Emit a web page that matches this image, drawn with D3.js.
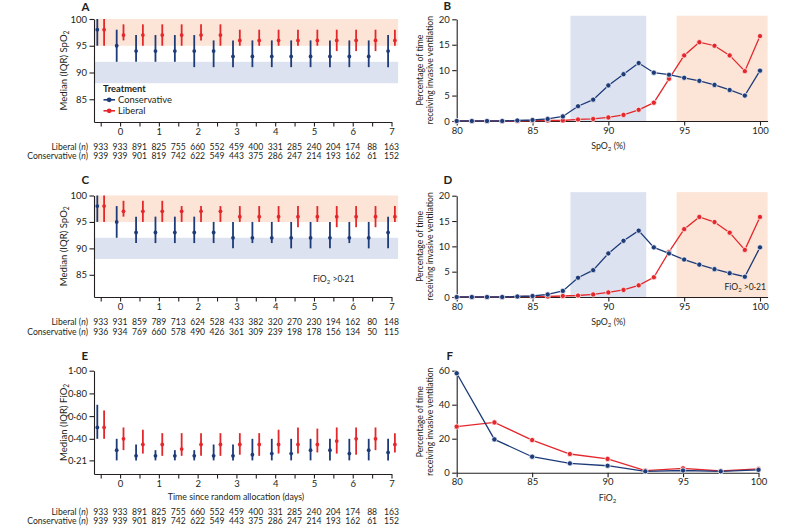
<!DOCTYPE html>
<html><head><meta charset="utf-8">
<script src="https://cdn.jsdelivr.net/npm/d3@7"></script>
<style>
body{margin:0;background:#fff}
text{font-family:Lato,"Noto Sans",sans-serif;fill:#231f20}
</style>
</head><body>
<svg id="c" width="800" height="530"></svg>
<script>
// ---------- DATA ----------
const days = [-0.5,0,0.5,1,1.5,2,2.5,3,3.5,4,4.5,5,5.5,6,6.5,7];

// Panel A: SpO2 median (IQR)
const aConsMed = [98,95,94,94,94,94,94,93,93,93,93,93,93,93,93,94];
const aConsLo  = [95,92,92,92,92,91,91,91,91,91,91,91,91,91,91,91];
const aConsHi  = [100,98,97,97,97,97,96,96,96,96,96,96,96,96,96,97];
const aLibMed  = [98,97,97,97,97,97,97,96,96,96,96,96,96,96,96,96];
const aLibLo   = [95,96,95,95,95,96,95,95,95,95,95,95,94,94,94,95];
const aLibHi   = [100,99,99,99,99,99,99,98,98,98,98,98,98,98,98,98];
const aLibN    = [933,933,891,825,755,660,552,459,400,331,285,240,204,174,88,163];
const aConsN   = [939,939,901,819,742,622,549,443,375,286,247,214,193,162,61,152];

// Panel C: SpO2 median (IQR), FiO2 > 0.21
const cConsMed = [98,95,93,93,93,93,93,92,92,92,92,92,92,92,92,93];
const cConsLo  = [95,92,91,91,91,91,91,90,91,91,90,90,90,91,90,90];
const cConsHi  = [100,98,96,96,96,96,95,95,95,95,95,95,95,95,95,96];
const cLibMed  = [98,97,97,97,97,97,97,96,96,96,96,96,96,96,96,96];
const cLibLo   = [95,96,95,95,95,95,95,95,95,95,94,95,94,94,94,95];
const cLibHi   = [100,99,99,99,98,98,98,98,98,98,98,98,98,98,98,98];
const cLibN    = [933,931,859,789,713,624,528,433,382,320,270,230,194,162,80,148];
const cConsN   = [936,934,769,660,578,490,426,361,309,239,198,178,156,134,50,115];

// Panel E: FiO2 median (IQR)
const eConsMed = [0.50,0.30,0.25,0.25,0.25,0.25,0.25,0.25,0.26,0.27,0.27,0.30,0.30,0.27,0.30,0.28];
const eConsLo  = [0.40,0.21,0.21,0.21,0.21,0.21,0.21,0.21,0.21,0.21,0.21,0.21,0.21,0.21,0.21,0.21];
const eConsHi  = [0.70,0.40,0.35,0.30,0.30,0.30,0.35,0.35,0.40,0.40,0.40,0.40,0.40,0.40,0.40,0.40];
const eLibMed  = [0.50,0.40,0.35,0.35,0.31,0.35,0.35,0.35,0.35,0.35,0.35,0.35,0.38,0.40,0.40,0.35];
const eLibLo   = [0.40,0.30,0.27,0.25,0.25,0.25,0.25,0.26,0.25,0.27,0.27,0.28,0.27,0.26,0.30,0.28];
const eLibHi   = [0.65,0.50,0.48,0.45,0.45,0.45,0.45,0.45,0.45,0.48,0.50,0.49,0.50,0.50,0.50,0.45];
const eLibN    = aLibN;
const eConsN   = aConsN;

// Panels B, D: % time receiving invasive ventilation by SpO2
const spo2 = [80,81,82,83,84,85,86,87,88,89,90,91,92,93,94,95,96,97,98,99,100];
const bCons = [0,0,0,0,0.1,0.2,0.4,0.9,2.9,4.2,7.0,9.2,11.4,9.5,9.1,8.5,7.9,7.1,6.1,5.0,9.9];
const bLib  = [0,0,0,0,0,0.1,0.1,0.1,0.3,0.4,0.7,1.2,2.2,3.6,8.3,12.9,15.5,14.8,12.9,9.8,16.7];
const dCons = [0,0,0,0,0.1,0.2,0.5,1.2,3.8,5.3,8.6,11.1,13.1,9.8,8.6,7.4,6.4,5.5,4.7,4.0,9.8];
const dLib  = [0,0,0,0,0.1,0.1,0.1,0.2,0.3,0.5,0.9,1.4,2.3,3.9,8.9,13.4,15.8,14.8,12.7,9.3,15.8];

// Panel F: by FiO2 bin
const fio2 = [80,82.5,85,87.5,90,92.5,95,97.5,100];
const fCons = [58.5,19.6,9.4,5.5,4.1,0.8,1.3,0.8,1.7];
const fLib  = [27.1,29.6,19.2,11.0,8.1,1.2,2.6,1.0,2.2];

// target bands
const consBand = [88,92];
const libBand  = [95,100];
const consBandX = [87.5,92.5];
const libBandX  = [94.5,100.5];

// ---------- STYLE ----------
const NAVY='#1d3b78', RED='#e4272b', PEACH='#fce4d6', LAV='#dde2f0', INK='#231f20';
const svg = d3.select('#c');

function styleAxis(g){
  g.select('.domain').attr('stroke',INK).attr('stroke-width',1.1);
  g.selectAll('.tick line').attr('stroke',INK).attr('stroke-width',1.1);
  g.selectAll('.tick text').style('font-family','Lato,"Noto Sans",sans-serif').attr('fill',INK);
}

// parts: [text, kind] with kind 'sub' for subscript, 'after' for text following a subscript
function labelWithSub(sel, parts, fs){
  const shift = fs*0.22;
  parts.forEach(p=>{
    const t = sel.append('tspan').text(p[0]);
    if(p[1]==='sub') t.attr('font-size',fs*0.7).attr('dy',shift);
    else if(p[1]==='after') t.attr('dy',-shift);
  });
}

function leftPanel(o){
  const x = d3.scaleLinear().domain([-0.673,7]).range([94,391.5]);
  const y = d3.scaleLinear().domain(o.yDomain).range([o.bottom,o.top]);
  const g = svg.append('g');
  if(o.bands){
    const x0 = x(-0.673), x1 = x(7.17);
    g.append('rect').attr('x',x0).attr('width',x1-x0)
      .attr('y',y(libBand[1])).attr('height',y(libBand[0])-y(libBand[1])).attr('fill',PEACH);
    g.append('rect').attr('x',x0).attr('width',x1-x0)
      .attr('y',y(consBand[1])).attr('height',y(consBand[0])-y(consBand[1])).attr('fill',LAV);
  }
  const ya = g.append('g').attr('transform','translate(94,0)')
    .call(d3.axisLeft(y).tickValues(o.yTicks).tickFormat(o.fmt).tickSize(4.5).tickSizeOuter(0));
  ya.selectAll('.tick text').attr('font-size',9.5).attr('x',-7);
  styleAxis(ya);
  const xa = g.append('g').attr('transform',`translate(0,${o.bottom})`)
    .call(d3.axisBottom(x).tickValues(days).tickFormat(d=>Number.isInteger(d)?d:'').tickSize(4.5).tickSizeOuter(0));
  xa.selectAll('.tick text').attr('font-size',9.5).attr('y',12.5).attr('dy',0);
  styleAxis(xa);

  const off = 3.4;
  const series = [
    {med:o.consMed, lo:o.consLo, hi:o.consHi, c:NAVY, dx:-off},
    {med:o.libMed, lo:o.libLo, hi:o.libHi, c:RED, dx:off}
  ];
  series.forEach(s=>{
    g.selectAll(null).data(days).enter().append('line')
      .attr('x1',(d)=>x(d)+s.dx).attr('x2',(d)=>x(d)+s.dx)
      .attr('y1',(d,i)=>y(s.lo[i])).attr('y2',(d,i)=>y(s.hi[i]))
      .attr('stroke',s.c).attr('stroke-width',1.8);
    g.selectAll(null).data(days).enter().append('circle')
      .attr('cx',(d)=>x(d)+s.dx).attr('cy',(d,i)=>y(s.med[i])).attr('r',1.9).attr('fill',s.c);
  });

  // counts
  const rows = [['Liberal ',o.libN,o.nY],['Conservative ',o.consN,o.nY+9.5]];
  rows.forEach(r=>{
    const t = g.append('text').attr('x',88).attr('y',r[2]).attr('text-anchor','end').attr('font-size',8.6);
    t.append('tspan').text(r[0]+'(');
    t.append('tspan').attr('font-style','italic').text('n');
    t.append('tspan').text(')');
    g.selectAll(null).data(days).enter().append('text')
      .attr('x',d=>x(d)).attr('y',r[2]).attr('text-anchor','middle').attr('font-size',8.6)
      .text((d,i)=>r[1][i]);
  });

  // y label
  const yl = g.append('text').attr('transform',`translate(67,${(o.top+o.bottom)/2}) rotate(-90)`)
    .attr('text-anchor','middle').attr('font-size',9.6);
  labelWithSub(yl,o.ylabel,9.6);
  g.append('text').attr('x',81.5).attr('y',o.letterY).attr('font-size',11.5).attr('font-weight','bold').text(o.letter);
  return {g,x,y};
}

function rightPanel(o){
  const x = d3.scaleLinear().domain([80,100]).range([456.7,o.x100]);
  const y = d3.scaleLinear().domain([0,o.yMax]).range([o.bottom,o.top]);
  const g = svg.append('g');
  if(o.bands){
    const yt = y(o.yMax*1.035);
    g.append('rect').attr('x',x(consBandX[0])).attr('width',x(consBandX[1])-x(consBandX[0]))
      .attr('y',yt).attr('height',y(0)-yt).attr('fill',LAV);
    g.append('rect').attr('x',x(libBandX[0])).attr('width',x(libBandX[1])-x(libBandX[0]))
      .attr('y',yt).attr('height',y(0)-yt).attr('fill',PEACH);
  }
  const ya = g.append('g').attr('transform','translate(456.7,0)')
    .call(d3.axisLeft(y).tickValues(o.yTicks).tickSize(4.5).tickSizeOuter(0));
  ya.selectAll('.tick text').attr('font-size',9.5).attr('x',-7);
  styleAxis(ya);
  const xEnd = o.bands ? 100.5 : 100;
  const xAxisScale = d3.scaleLinear().domain([80,xEnd]).range([456.7,x(xEnd)]);
  const xa = g.append('g').attr('transform',`translate(0,${o.bottom})`)
    .call(d3.axisBottom(xAxisScale).tickValues([80,85,90,95,100]).tickSize(4.5).tickSizeOuter(0));
  xa.selectAll('.tick text').attr('font-size',9.5).attr('y',12.5).attr('dy',0);
  styleAxis(xa);

  const line = d3.line().x(d=>x(d[0])).y(d=>y(d[1]));
  [[o.lib,RED],[o.cons,NAVY]].forEach(s=>{
    const pts = o.xs.map((v,i)=>[v,s[0][i]]);
    g.append('path').datum(pts).attr('d',line).attr('fill','none').attr('stroke',s[1]).attr('stroke-width',1.3);
    g.selectAll(null).data(pts).enter().append('circle')
      .attr('cx',d=>x(d[0])).attr('cy',d=>y(d[1])).attr('r',2.6)
      .attr('fill',s[1]).attr('stroke','#fff').attr('stroke-width',0.7);
  });

  const cy = (o.top+o.bottom)/2;
  g.append('text').attr('transform',`translate(422.5,${cy}) rotate(-90)`).attr('text-anchor','middle')
    .attr('font-size',8.6).text('Percentage of time');
  g.append('text').attr('transform',`translate(432.5,${cy}) rotate(-90)`).attr('text-anchor','middle')
    .attr('font-size',8.6).text('receiving invasive ventilation');
  const xt = g.append('text').attr('x',(456.7+o.x100)/2).attr('y',o.bottom+28).attr('text-anchor','middle').attr('font-size',8.8);
  labelWithSub(xt,o.xlabel,8.8);
  g.append('text').attr('x',o.letterX).attr('y',o.letterY).attr('font-size',11.5).attr('font-weight','bold').text(o.letter);
  return {g,x,y};
}

const dot = d=>d3.format('.2f')(d).replace('.','\u00b7');

// ---------- PANELS ----------
const A = leftPanel({top:19,bottom:122,yDomain:[80.75,100],yTicks:[85,90,95,100],fmt:d=>d,bands:true,
  consMed:aConsMed,consLo:aConsLo,consHi:aConsHi,libMed:aLibMed,libLo:aLibLo,libHi:aLibHi,
  libN:aLibN,consN:aConsN,nY:149.5,letter:'A',letterY:11,
  ylabel:[['Median (IQR) SpO'],['2','sub']]});

// legend in A
const lg = A.g;
lg.append('text').attr('x',103).attr('y',92).attr('font-size',9.4).attr('font-weight','bold').text('Treatment');
[['Conservative',NAVY,103],['Liberal',RED,114]].forEach(r=>{
  lg.append('line').attr('x1',103.5).attr('x2',115).attr('y1',r[2]-3.2).attr('y2',r[2]-3.2).attr('stroke',r[1]).attr('stroke-width',1.6);
  lg.append('circle').attr('cx',109.2).attr('cy',r[2]-3.2).attr('r',2.4).attr('fill',r[1]);
  lg.append('text').attr('x',118).attr('y',r[2]).attr('font-size',9.4).text(r[0]);
});

const C = leftPanel({top:195.5,bottom:297,yDomain:[80.8,100],yTicks:[85,90,95,100],fmt:d=>d,bands:true,
  consMed:cConsMed,consLo:cConsLo,consHi:cConsHi,libMed:cLibMed,libLo:cLibLo,libHi:cLibHi,
  libN:cLibN,consN:cConsN,nY:325,letter:'C',letterY:184,
  ylabel:[['Median (IQR) SpO'],['2','sub']]});
{
  const t = C.g.append('text').attr('x',313).attr('y',282).attr('font-size',8.6);
  labelWithSub(t,[['FiO'],['2','sub'],[' >0\u00b721','after']],8.6);
}

const E = leftPanel({top:370.7,bottom:474,yDomain:[0.09,1.0],yTicks:[0.21,0.40,0.60,0.80,1.00],fmt:dot,bands:false,
  consMed:eConsMed,consLo:eConsLo,consHi:eConsHi,libMed:eLibMed,libLo:eLibLo,libHi:eLibHi,
  libN:eLibN,consN:eConsN,nY:514.5,letter:'E',letterY:360,
  ylabel:[['Median (IQR) FiO'],['2','sub']]});
E.g.append('text').attr('x',236).attr('y',500).attr('text-anchor','middle').attr('font-size',8.8)
  .text('Time since random allocation (days)');

rightPanel({top:19.3,bottom:121,yMax:20,yTicks:[0,5,10,15,20],x100:760,bands:true,xs:spo2,cons:bCons,lib:bLib,
  xlabel:[['SpO'],['2','sub'],[' (%)','after']],letter:'B',letterX:443.5,letterY:10});
const D = rightPanel({top:195.7,bottom:297,yMax:20,yTicks:[0,5,10,15,20],x100:760,bands:true,xs:spo2,cons:dCons,lib:dLib,
  xlabel:[['SpO'],['2','sub'],[' (%)','after']],letter:'D',letterX:443.5,letterY:184});
{
  const t = D.g.append('text').attr('x',766).attr('y',290).attr('text-anchor','end').attr('font-size',8.6);
  labelWithSub(t,[['FiO'],['2','sub'],[' >0\u00b721','after']],8.6);
}
rightPanel({top:370.7,bottom:472.7,yMax:60,yTicks:[0,20,40,60],x100:758.5,bands:false,xs:fio2,cons:fCons,lib:fLib,
  xlabel:[['FiO'],['2','sub']],letter:'F',letterX:446.5,letterY:360});
</script>
</body></html>
